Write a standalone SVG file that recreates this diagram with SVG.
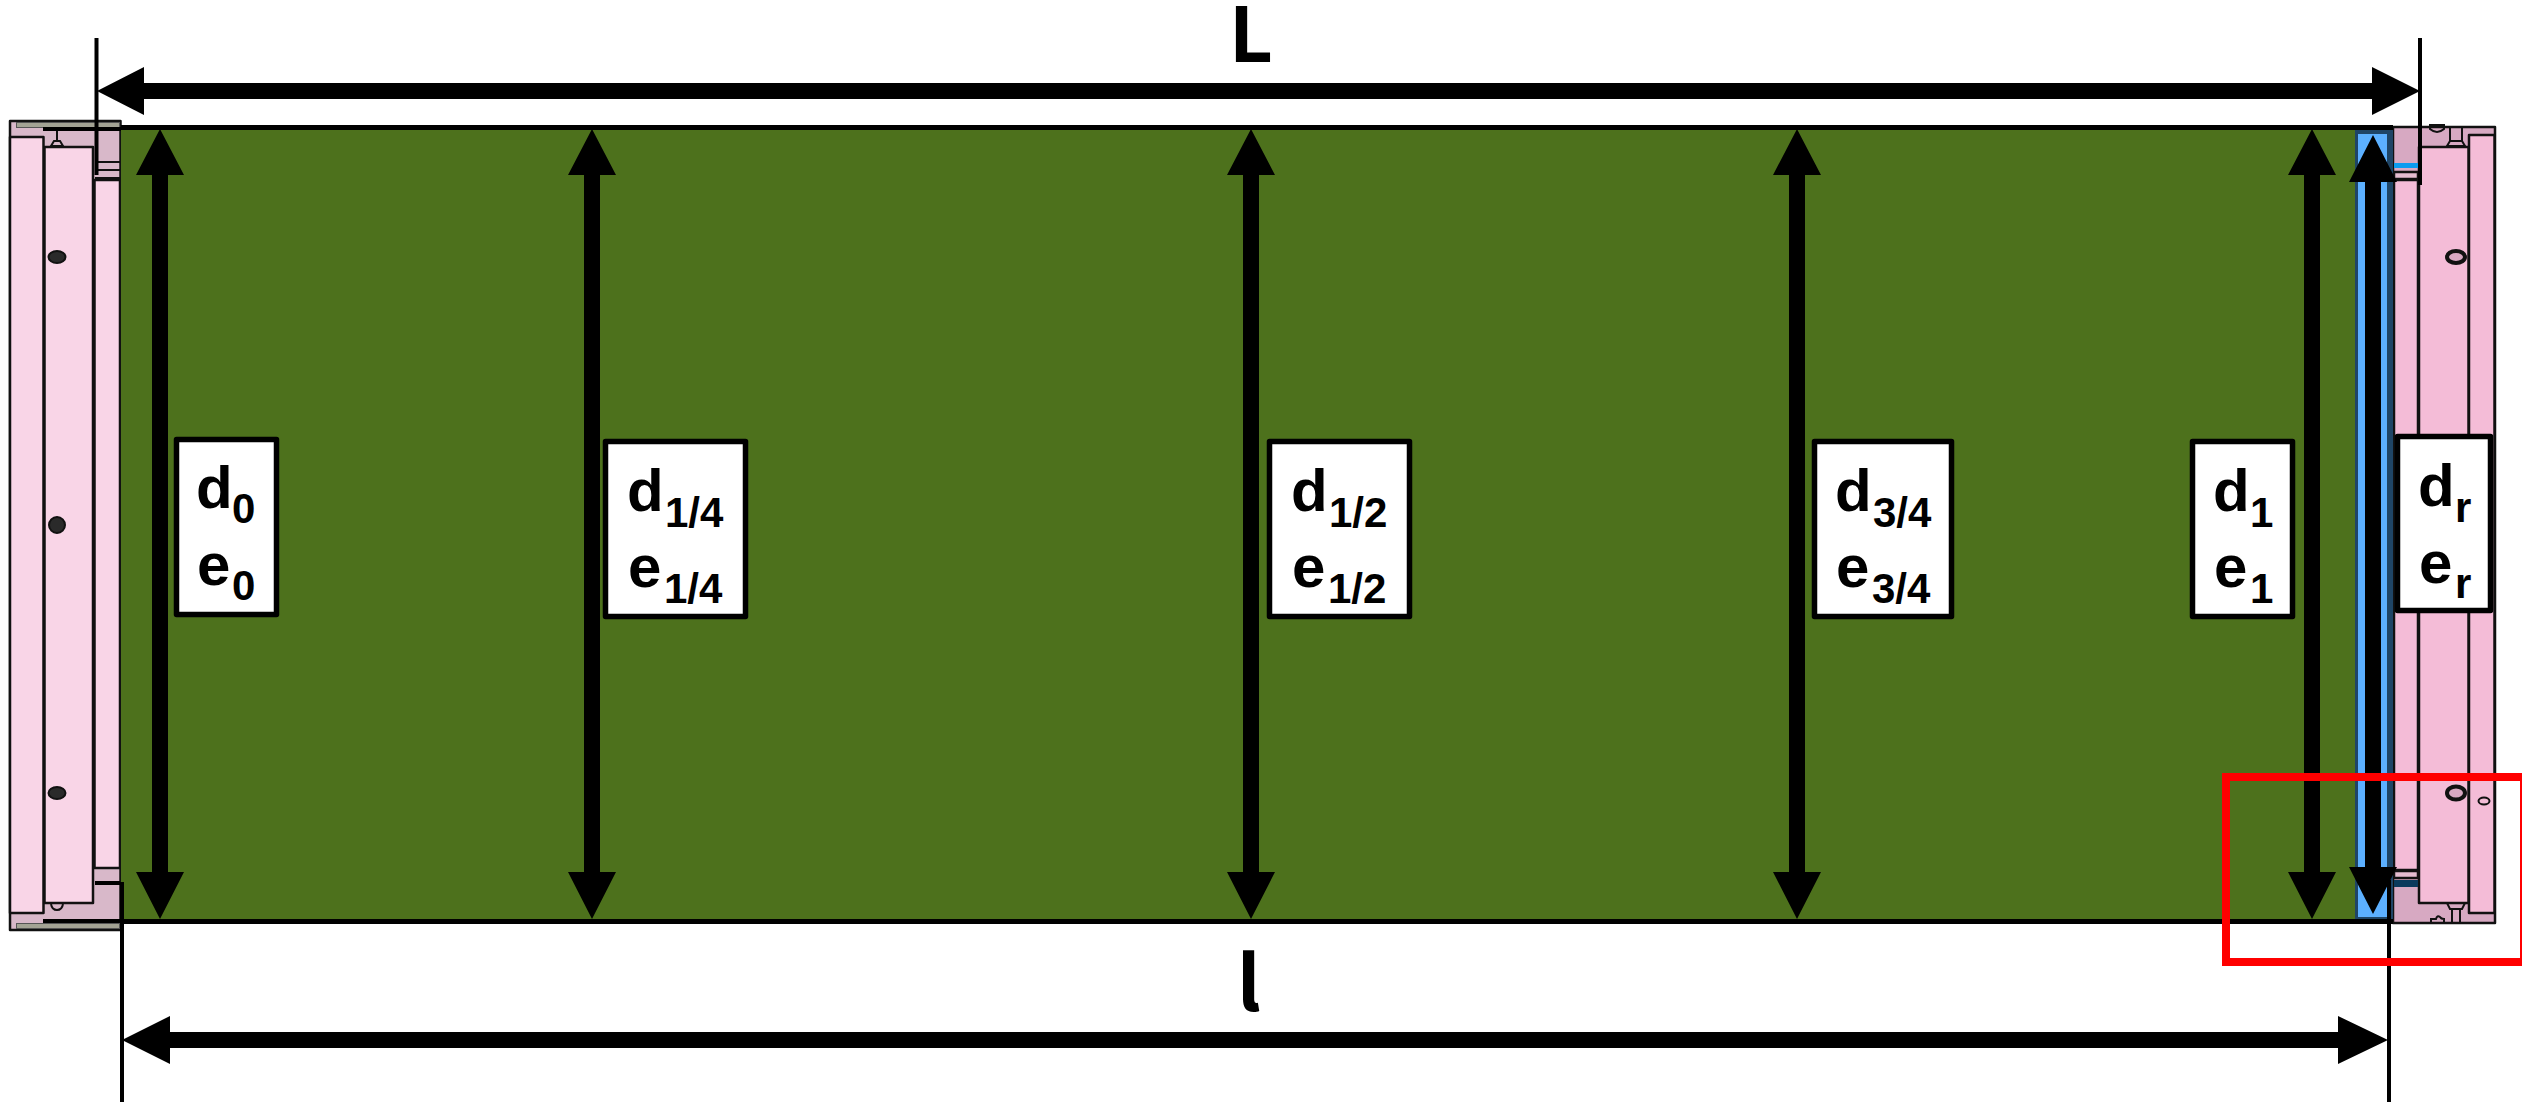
<svg xmlns="http://www.w3.org/2000/svg" width="2522" height="1102" viewBox="0 0 2522 1102">
<style>
.lbl{font-family:"Liberation Sans",Arial,sans-serif;font-weight:700;fill:#000}
.m{font-size:60px}
.s{font-size:42px}
.box{fill:#fff;stroke:#000;stroke-width:5.5;stroke-linejoin:round}
.dim{font-family:"Noto Sans CJK SC","Noto Sans",sans-serif;font-weight:700;font-size:76px;fill:#000}
.ol{stroke:#111;stroke-width:2.5;stroke-linejoin:round}
.ln{stroke:#111;stroke-width:2;fill:none}
.thin{stroke:#000;stroke-width:4;fill:none}
.shaft{fill:#000}
.screw{fill:#2a2a2a;stroke:#111;stroke-width:2}
.ring{fill:#d8a8c2;stroke:#111;stroke-width:4}
</style>
<rect width="2522" height="1102" fill="#fff"/>

<g id="left-frame">
<rect x="10" y="121" width="110.500" height="809" fill="#d8b8c9" class="ol"/>
<rect x="10" y="137" width="33.500" height="776" fill="#f9d5e7" class="ol"/>
<rect x="44.500" y="147" width="48.500" height="756" fill="#f9d5e7" class="ol"/>
<rect x="94.500" y="180" width="25.500" height="688" fill="#f9d5e7" class="ol"/>
<rect x="16.500" y="122.500" width="103" height="5" fill="#a3a394" stroke="#555" stroke-width="1"/>
<rect x="16.500" y="923.500" width="103" height="5" fill="#a3a394" stroke="#555" stroke-width="1"/>
<path d="M43 129H121M43 921H121" stroke="#000" stroke-width="4" fill="none"/>
<path d="M57 131V141M51 146H63L60 141H54Z" class="ln"/>
<path d="M51 904Q52 910 57 910Q62 910 63 904" class="ln"/>
<path d="M95 162H120M95 170H120M95 178H120" class="ln"/>
<path d="M95 883H120" stroke="#000" stroke-width="4"/>
<ellipse class="screw" cx="57" cy="257" rx="8.500" ry="6"/>
<circle class="screw" cx="57" cy="525" r="8"/>
<ellipse class="screw" cx="57" cy="793" rx="8.500" ry="6"/>
</g>

<g id="right-frame">
<rect x="2393" y="127" width="102" height="796" fill="#d7a9c2" class="ol"/>
<rect x="2469" y="135" width="25.500" height="778" fill="#f4bcd7" class="ol"/>
<rect x="2419" y="147" width="49.500" height="756" fill="#f4bcd7" class="ol"/>
<rect x="2394" y="180" width="24" height="690" fill="#f4bcd7" class="ol"/>
<rect x="2394" y="163" width="24" height="5" fill="#0a9cf0"/>
<rect x="2394" y="172" width="24" height="7" fill="#e4bcd0" class="ol"/>
<rect x="2394" y="871" width="24" height="7" fill="#e4bcd0" class="ol"/>
<rect x="2394" y="880" width="24" height="7" fill="#0b3a5c"/>
<path d="M2430 125H2444V129Q2437 135 2430 129Z" fill="#fff" class="ln"/>
<path d="M2450 127V141H2462V127M2447 146H2465L2462 141H2450Z" fill="#f4bcd7" class="ln"/>
<path d="M2447 903H2465L2462 909H2450ZM2452 909V923M2460 909V923" fill="#f4bcd7" class="ln"/>
<path d="M2431 923V919H2436Q2437 915 2440 917Q2441 919 2444 919V923Z" fill="#fff" class="ln"/>
<ellipse class="ring" cx="2456" cy="257" rx="9" ry="6"/>
<ellipse class="ring" cx="2456" cy="793" rx="9" ry="6.500"/>
<ellipse class="ln" style="fill:#f4bcd7" cx="2484" cy="801" rx="5.500" ry="3.500"/>
</g>

<g id="shim">
<rect x="2355" y="127" width="38" height="796" fill="#1f4566"/>
<rect x="2358" y="134" width="29" height="783" fill="#5cb0ff"/>
</g>

<g id="panel">
<rect x="121" y="127.500" width="2234" height="794" fill="#4d711c" stroke="none"/>
<path d="M121 127.500H2393M121 921.500H2393" stroke="#000" stroke-width="5" fill="none"/>
</g>

<g id="connectors">
<g id="witness-lines">
<path class="thin" d="M96.500 38V175M2420 38V185M122 882V1102M2389 880V1102"/>
</g>
<g id="dim-L"><rect class="shaft" x="144" y="83" width="2228" height="16"/><path d="M97 91L144 67V115ZM2420 91L2372 67V115Z"/></g>
<g id="dim-l"><rect class="shaft" x="170" y="1032" width="2168" height="16"/><path d="M122 1040L170 1016V1064ZM2388 1040L2338 1016V1064Z"/></g>
<g id="dim-d0"><rect class="shaft" x="152" y="174" width="16" height="699"/><path d="M160 129L184 175H136ZM160 919L184 872H136Z"/></g>
<g id="dim-d14"><rect class="shaft" x="584" y="174" width="16" height="699"/><path d="M592 129L616 175H568ZM592 919L616 872H568Z"/></g>
<g id="dim-d12"><rect class="shaft" x="1243" y="174" width="16" height="699"/><path d="M1251 129L1275 175H1227ZM1251 919L1275 872H1227Z"/></g>
<g id="dim-d34"><rect class="shaft" x="1789" y="174" width="16" height="699"/><path d="M1797 129L1821 175H1773ZM1797 919L1821 872H1773Z"/></g>
<g id="dim-d1"><rect class="shaft" x="2304" y="174" width="16" height="699"/><path d="M2312 129L2336 175H2288ZM2312 919L2336 872H2288Z"/></g>
<g id="dim-dr"><rect class="shaft" x="2365" y="181" width="16" height="687"/><path d="M2373 135L2397 182H2349ZM2373 914L2397 867H2349Z"/></g>
</g>

<g id="label-0">
<rect class="box" x="176.500" y="439.500" width="100" height="175"/>
<text class="lbl m" x="196" y="508">d</text><text class="lbl s" x="232" y="523">0</text>
<text class="lbl m" x="197" y="585">e</text><text class="lbl s" x="232" y="600">0</text>
</g>
<g id="label-1-4">
<rect class="box" x="605.500" y="441.500" width="140" height="175"/>
<text class="lbl m" x="627" y="511">d</text><text class="lbl s" x="665" y="527">1/4</text>
<text class="lbl m" x="628" y="587">e</text><text class="lbl s" x="664" y="603">1/4</text>
</g>
<g id="label-1-2">
<rect class="box" x="1269.500" y="441.500" width="140" height="175"/>
<text class="lbl m" x="1291" y="511">d</text><text class="lbl s" x="1329" y="527">1/2</text>
<text class="lbl m" x="1292" y="587">e</text><text class="lbl s" x="1328" y="603">1/2</text>
</g>
<g id="label-3-4">
<rect class="box" x="1814.500" y="441.500" width="137" height="175"/>
<text class="lbl m" x="1835" y="511">d</text><text class="lbl s" x="1873" y="527">3/4</text>
<text class="lbl m" x="1836" y="587">e</text><text class="lbl s" x="1872" y="603">3/4</text>
</g>
<g id="label-1">
<rect class="box" x="2192.500" y="441.500" width="100" height="175"/>
<text class="lbl m" x="2213" y="511">d</text><text class="lbl s" x="2250" y="527">1</text>
<text class="lbl m" x="2214" y="587">e</text><text class="lbl s" x="2250" y="603">1</text>
</g>
<g id="label-r">
<rect class="box" x="2397.500" y="436.500" width="93" height="174"/>
<text class="lbl m" x="2418" y="506">d</text><text class="lbl s" x="2455" y="522">r</text>
<text class="lbl m" x="2419" y="583">e</text><text class="lbl s" x="2455" y="598">r</text>
</g>

<text class="dim" x="1229" y="62">L</text>
<text class="dim" x="1237" y="1011">l</text>

<rect id="highlight" x="2226" y="777" width="298" height="185" fill="none" stroke="#f00" stroke-width="8"/>
</svg>
